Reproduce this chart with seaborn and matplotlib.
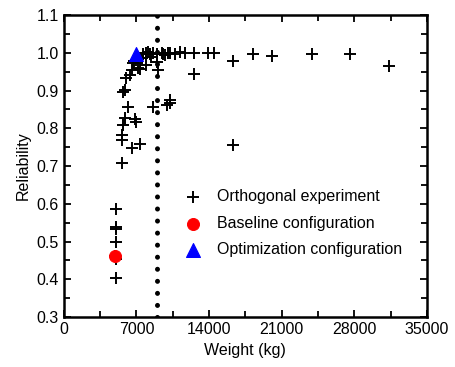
import numpy as np
import pandas as pd
import seaborn as sns
import matplotlib.pyplot as plt
from matplotlib.ticker import MultipleLocator

# Orthogonal experiment results (weight in kg, reliability)
ortho_weight = [5000, 5000, 5000, 5000, 5000, 5000, 4950,
                5560, 5560, 5560, 5720, 5880, 6850, 6200, 6530, 7330,
                5880, 5720, 6040, 6370, 6530, 6690, 7170, 7490, 7970,
                6780, 6950, 7330, 7650, 7970, 8130, 8290, 8610, 8940, 9100,
                9420, 9740, 10060, 10220, 10700, 11190, 11670, 12540, 13920, 14470,
                8610, 9900, 10220, 8940, 12540, 16270, 16270, 10220,
                18200, 20030, 23890, 27580, 31370, 7000, 7300, 8400, 9600]
ortho_rel = [0.586, 0.539, 0.533, 0.500, 0.404, 0.455, 0.462,
             0.707, 0.769, 0.782, 0.809, 0.826, 0.824, 0.857, 0.747, 0.758,
             0.901, 0.897, 0.932, 0.941, 0.954, 0.972, 0.959, 0.985, 0.968,
             0.977, 0.817, 0.957, 0.998, 1.000, 1.003, 0.998, 1.000, 0.998, 0.954,
             1.000, 0.994, 1.000, 1.000, 0.998, 1.003, 1.000, 1.000, 1.000, 1.000,
             0.857, 0.862, 0.866, 0.976, 0.944, 0.757, 0.979, 0.875,
             0.998, 0.991, 0.997, 0.998, 0.965, 0.980, 0.985, 0.990, 0.996]

baseline_weight = [4920]
baseline_rel = [0.462]

optim_weight = [6950]
optim_rel = [0.997]

weight_limit = 9000

ortho = pd.DataFrame({"Weight": ortho_weight, "Reliability": ortho_rel})
base = pd.DataFrame({"Weight": baseline_weight, "Reliability": baseline_rel})
opt = pd.DataFrame({"Weight": optim_weight, "Reliability": optim_rel})

sns.set_style("ticks")
plt.rcParams['font.family'] = ['Liberation Sans', 'DejaVu Sans']
plt.rcParams['text.color'] = 'black'
plt.rcParams['axes.labelcolor'] = 'black'
plt.rcParams['xtick.color'] = 'black'
plt.rcParams['ytick.color'] = 'black'

fig = plt.figure(figsize=(4.56, 3.67), dpi=100)
ax = fig.add_axes([0.140, 0.136, 0.796, 0.823])

ax.axvline(weight_limit, color="black", linestyle=(0, (0.01, 2.4)), linewidth=3.6,
           dash_capstyle="round", zorder=1)

sns.scatterplot(data=ortho, x="Weight", y="Reliability", marker="+", s=75,
                color="black", linewidth=1.4, ax=ax, label="Orthogonal experiment", zorder=3)
sns.scatterplot(data=base, x="Weight", y="Reliability", marker="o", s=75,
                color="red", edgecolor="red", ax=ax, label="Baseline configuration", zorder=4)
sns.scatterplot(data=opt, x="Weight", y="Reliability", marker="^", s=100,
                color="blue", edgecolor="blue", ax=ax, label="Optimization configuration", zorder=4)

ax.set_xlim(0, 35000)
ax.set_ylim(0.3, 1.1)
ax.xaxis.set_major_locator(MultipleLocator(7000))
ax.xaxis.set_minor_locator(MultipleLocator(3500))
ax.yaxis.set_major_locator(MultipleLocator(0.1))
ax.yaxis.set_minor_locator(MultipleLocator(0.05))
ax.yaxis.set_major_formatter(plt.FuncFormatter(lambda v, p: f"{v:.1f}"))
ax.tick_params(which="both", direction="in", top=True, right=True, labelsize=11.5, width=1.3)
ax.tick_params(which="major", length=5)
ax.tick_params(which="minor", length=4)
for s in ax.spines.values():
    s.set_linewidth(1.8)
    s.set_color("black")

ax.set_xlabel("Weight (kg)", fontsize=11.5)
ax.set_ylabel("Reliability", fontsize=11.5)

ax.legend(loc="center left", bbox_to_anchor=(0.28, 0.31), frameon=False, fontsize=11.5,
          handletextpad=0.5, borderpad=0.2, labelspacing=0.72)

fig.savefig("out.png", dpi=100)
